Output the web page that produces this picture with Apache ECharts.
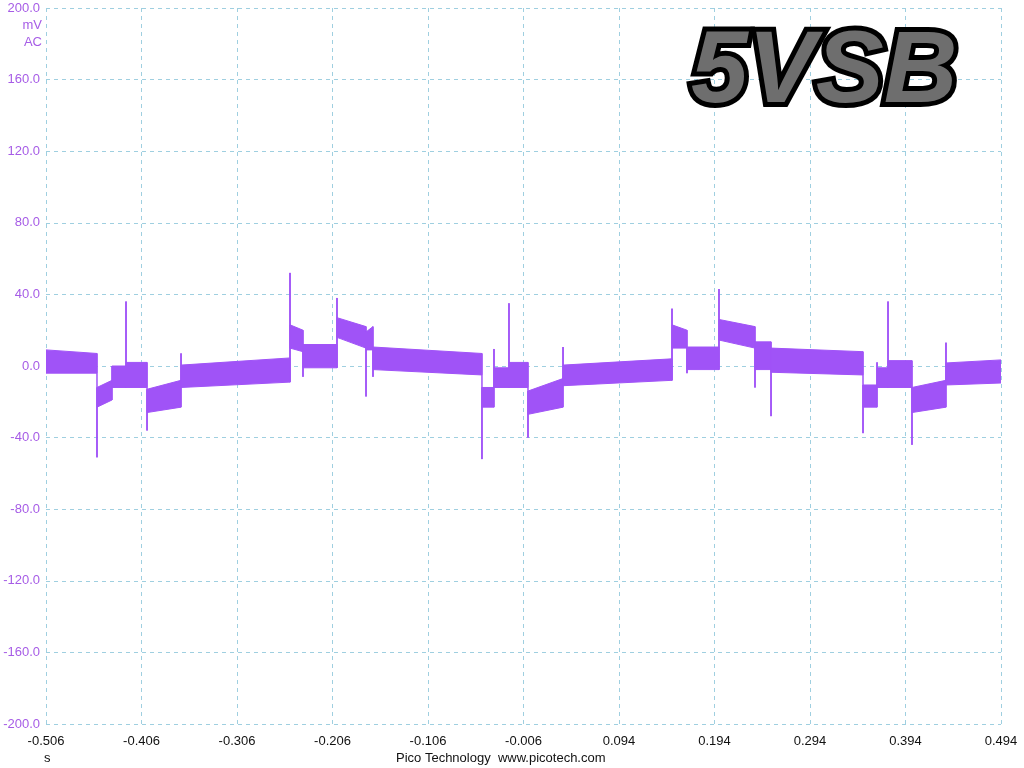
<!DOCTYPE html>
<html>
<head>
<meta charset="utf-8">
<title>5VSB</title>
<script src="https://cdn.jsdelivr.net/npm/echarts@6/dist/echarts.min.js"></script>
<style>
  html, body { margin: 0; padding: 0; background: #fff; }
  #scope { width: 1024px; height: 768px; }
</style>
</head>
<body>
<div id="scope"></div>
<script>
// time of the left edge of the capture, s
var T0 = -0.506;

// envelope of the noisy trace: time (s), bottom and top of the band (mV)
var times = [
  -0.506, -0.4526, -0.4526, -0.4526, -0.4369, -0.4369, -0.4222, -0.4222, -0.4222,
  -0.4002, -0.4002, -0.4002, -0.3646, -0.3646, -0.3646, -0.2505, -0.2505, -0.2505,
  -0.2369, -0.2369, -0.2369, -0.2013, -0.2013, -0.2013, -0.1709, -0.1709, -0.1709,
  -0.1636, -0.1636, -0.1636, -0.0495, -0.0495, -0.0495, -0.0369, -0.0369, -0.0369,
  -0.0212, -0.0212, -0.0212, -0.0013, -0.0013, -0.0013, 0.0354, 0.0354, 0.0354,
  0.1495, 0.1495, 0.1495, 0.1652, 0.1652, 0.1652, 0.1987, 0.1987, 0.1987,
  0.2364, 0.2364, 0.2364, 0.2532, 0.2532, 0.2532, 0.3495, 0.3495, 0.3495,
  0.3642, 0.3642, 0.3642, 0.3757, 0.3757, 0.3757, 0.4008, 0.4008, 0.4008,
  0.4364, 0.4364, 0.4364, 0.494
];
var lowerMv = [
  -4, -4, -51, -23, -19, -12, -12, -12, -12,
  -12, -36, -26, -23, -12, -12, -9, -9, 10,
  8, -6, -1, -1, -1, 16, 10, -17, 9,
  9, -6, -2, -5, -52, -23, -23, -12, -12,
  -12, -12, -12, -12, -40, -27, -23, -11, -11,
  -8, -8, 10, 10, -4, -2, -2, -2, 14.5,
  10, -12, -2, -2, -28, -3.5, -5, -37.5, -23,
  -23, -12, -12, -12, -12, -12, -12, -44, -26,
  -23, -10.6, -10.6, -9.5
];
var upperMv = [
  9, 7, -12, -12, -8, 0, 0, 36, 2,
  2, -13, -13, -8, 7, 0.5, 4.5, 52, 23,
  20, 12, 12, 12, 38, 27, 22, 19, 19,
  22, 10.6, 10.6, 7, -12, -12, -12, 9.5, -1,
  -1, 35, 2, 2, -14, -14, -7, 10.6, 0.5,
  4, 32, 23, 20, 10.6, 10.6, 10.6, 43, 26,
  22, 13.5, 13.5, 13.5, 10, 10, 8, -10.6, -10.6,
  -10.6, 2, -1, -1, 36, 3, 3, -12, -12,
  -8, 13, 1.7, 3.4
];

var traceColor = '#a053f7';
var labelColor = '#a65ce6';
var gridColor = '#9fcfe0';

// one item per stretch between two neighbouring envelope points
var pieces = [];
for (var i = 0; i < times.length - 1; i++) {
  pieces.push([times[i] - T0, lowerMv[i], upperMv[i],
               times[i + 1] - T0, lowerMv[i + 1], upperMv[i + 1]]);
}

function renderPiece(params, api) {
  var a = api.coord([api.value(0), api.value(1)]);
  var b = api.coord([api.value(0), api.value(2)]);
  var c = api.coord([api.value(3), api.value(5)]);
  var d = api.coord([api.value(3), api.value(4)]);
  return {
    type: 'polygon',
    shape: { points: [a, b, c, d] },
    style: { fill: traceColor, stroke: traceColor, lineWidth: 1 }
  };
}

var chart = echarts.init(document.getElementById('scope'));
var option = {
  animation: false,
  backgroundColor: '#fff',
  grid: { left: 46, right: 23, top: 8, bottom: 44, containLabel: false },
  xAxis: {
    type: 'value',
    min: 0,
    max: 1,
    interval: 0.1,
    axisLine: { show: false },
    axisTick: { show: false },
    axisLabel: {
      color: '#111',
      fontFamily: 'Liberation Sans, Arial, sans-serif',
      fontSize: 13,
      margin: 11,
      formatter: function (v) { return (v + T0).toFixed(3); }
    },
    splitLine: { show: true, lineStyle: { color: gridColor, type: [4, 4], width: 1 } }
  },
  yAxis: {
    type: 'value',
    min: -200,
    max: 200,
    interval: 40,
    axisLine: { show: false },
    axisTick: { show: false },
    axisLabel: {
      color: labelColor,
      fontFamily: 'Liberation Sans, Arial, sans-serif',
      fontSize: 13,
      margin: 6,
      formatter: function (v) { return v.toFixed(1); }
    },
    splitLine: { show: true, lineStyle: { color: gridColor, type: [4, 4], width: 1 } }
  },
  series: [
    {
      name: 'trace',
      type: 'custom',
      renderItem: renderPiece,
      encode: { x: [0, 3], y: [1, 2, 4, 5] },
      data: pieces,
      clip: true
    }
  ],
  graphic: [
    {
      type: 'text', right: 982, top: 19,
      style: { text: 'mV', fill: labelColor, font: '13px Liberation Sans', textAlign: 'right' }
    },
    {
      type: 'text', right: 982, top: 36,
      style: { text: 'AC', fill: labelColor, font: '13px Liberation Sans', textAlign: 'right' }
    },
    {
      type: 'text', left: 44, top: 752,
      style: { text: 's', fill: '#111', font: '13px Liberation Sans' }
    },
    {
      type: 'text', left: 396, top: 752,
      style: { text: 'Pico Technology  www.picotech.com', fill: '#111', font: '13px Liberation Sans' }
    },
    {
      type: 'text', left: 686, top: 18, z: 10,
      style: {
        text: '5VSB',
        font: 'italic bold 102px Liberation Sans',
        fill: '#6e6e6e',
        stroke: '#000',
        lineWidth: 10
      }
    }
  ]
};
chart.setOption(option);
</script>
</body>
</html>
